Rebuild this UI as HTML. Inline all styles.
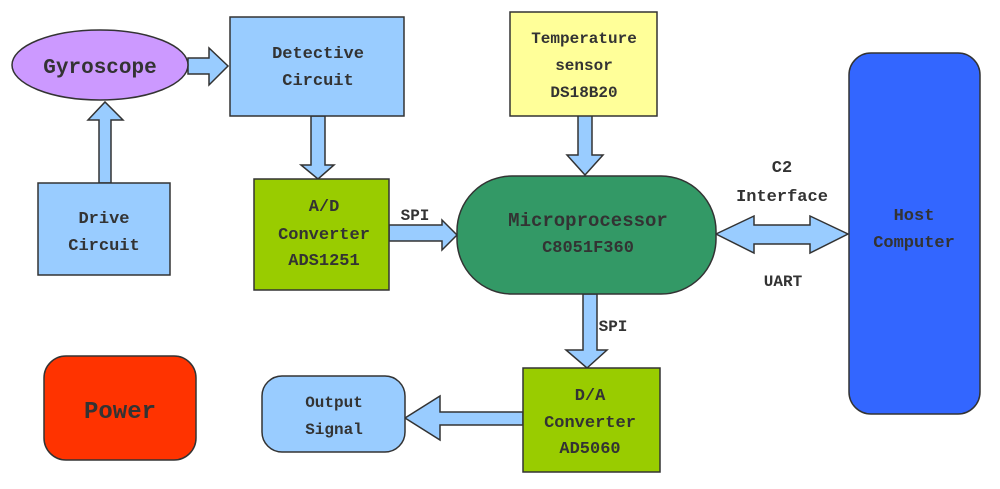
<!DOCTYPE html>
<html><head><meta charset="utf-8"><style>
html,body{margin:0;padding:0;background:#fff;width:1000px;height:489px;overflow:hidden}
svg text{font-family:"Liberation Mono","DejaVu Sans Mono",monospace;font-weight:bold;fill:#333;text-anchor:middle}
</style></head><body>
<svg width="1000" height="489" viewBox="0 0 1000 489" xmlns="http://www.w3.org/2000/svg">
<g stroke="#333" stroke-width="1.5">
<!-- arrows -->
<g fill="#99ccff">
<polygon points="188,58 209,58 209,48 228,66 209,85 209,74 188,74"/>
<polygon points="99,183 99,120 88,120 105,102 123,120 111,120 111,183"/>
<polygon points="311,116 325,116 325,165 334,165 318,179 301,165 311,165"/>
<polygon points="389,225 442,225 442,220 457,235 442,250 442,241 389,241"/>
<polygon points="578,115 592,115 592,155 603,155 585,175 567,155 578,155"/>
<polygon points="716,234 754,216 754,225 810,225 810,216 848,234 810,253 810,244 754,244 754,253"/>
<polygon points="583,294 597,294 597,350 607,350 587,368 566,350 583,350"/>
<polygon points="523,412 440,412 440,396 405,418 440,440 440,425 523,425"/>
</g>
<ellipse cx="100" cy="65" rx="88" ry="35" fill="#cc99ff"/>
<rect x="230" y="17" width="174" height="99" fill="#99ccff"/>
<rect x="38" y="183" width="132" height="92" fill="#99ccff"/>
<rect x="254" y="179" width="135" height="111" fill="#99cc00"/>
<rect x="510" y="12" width="147" height="104" fill="#ffff99"/>
<rect x="457" y="176" width="259" height="118" rx="55" ry="55" fill="#339966"/>
<rect x="849" y="53" width="131" height="361" rx="22" ry="22" fill="#3366ff"/>
<rect x="523" y="368" width="137" height="104" fill="#99cc00"/>
<rect x="262" y="376" width="143" height="76" rx="20" ry="20" fill="#99ccff"/>
<rect x="44" y="356" width="152" height="104" rx="22" ry="22" fill="#ff3300"/>
</g>
<text x="100" y="73" font-size="21">Gyroscope</text>
<text x="318" y="58" font-size="17">Detective</text>
<text x="318" y="85" font-size="17">Circuit</text>
<text x="104" y="223" font-size="17">Drive</text>
<text x="104" y="250" font-size="17">Circuit</text>
<text x="324" y="211" font-size="17">A/D</text>
<text x="324" y="239" font-size="17">Converter</text>
<text x="324" y="265" font-size="17">ADS1251</text>
<text x="415" y="220" font-size="16">SPI</text>
<text x="584" y="43" font-size="16">Temperature</text>
<text x="584" y="70" font-size="16">sensor</text>
<text x="584" y="97" font-size="16">DS18B20</text>
<text x="588" y="226" font-size="19">Microprocessor</text>
<text x="588" y="252" font-size="17">C8051F360</text>
<text x="782" y="172" font-size="17">C2</text>
<text x="782" y="201" font-size="17">Interface</text>
<text x="783" y="286" font-size="16">UART</text>
<text x="914" y="220" font-size="17">Host</text>
<text x="914" y="247" font-size="17">Computer</text>
<text x="613" y="331" font-size="16">SPI</text>
<text x="590" y="400" font-size="17">D/A</text>
<text x="590" y="427" font-size="17">Converter</text>
<text x="590" y="453" font-size="17">AD5060</text>
<text x="334" y="407" font-size="16">Output</text>
<text x="334" y="434" font-size="16">Signal</text>
<text x="120" y="418" font-size="24" font-weight="normal">Power</text>
</svg>
</body></html>
